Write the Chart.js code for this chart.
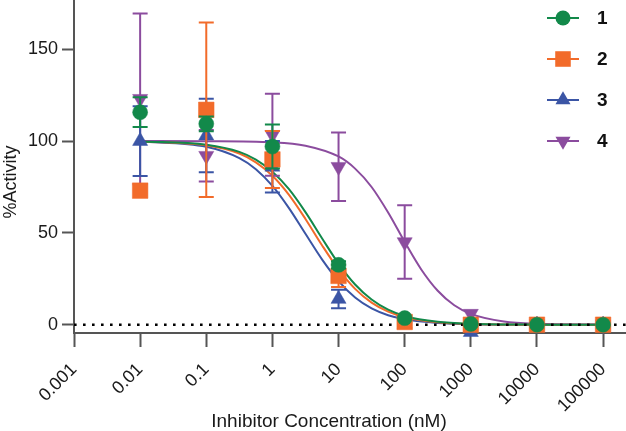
<!DOCTYPE html>
<html><head><meta charset="utf-8">
<script src="https://cdn.jsdelivr.net/npm/chart.js@4.4.1/dist/chart.umd.min.js"></script>
<style>html,body{margin:0;padding:0;background:#fff}canvas{display:block}</style>
</head><body>
<canvas id="c" width="626" height="431"></canvas>
<script>
// ---- data ----
const concentrations = [0.01, 0.1, 1, 10, 100, 1000, 10000, 100000];
const seriesNames = ['1', '2', '3', '4'];
const act1 = [115.7, 109.4, 97, 32.6, 3.6, 0.4, 0, 0];
const sd1  = [8.1, 4, 12, 2, 0, 0, 0, 0];
const act2 = [73, 117, 90, 26.6, 1.5, 0, 0, 0];
const sd2  = [0, 47.5, 15.5, 6, 0, 0, 0, 0];
const act3 = [100, 103, 86, 14, 0.5, -4, 0, 0];
const sd3  = [19, 20, 14, 5, 0, 0, 0, 0];
const act4 = [123, 92, 103.4, 86, 45, 6, 0.3, 0];
const sd4  = [46.5, 14, 22.3, 18.6, 20, 0, 0, 0];
// fitted curves
const fitConc = [0.01, 0.1, 0.316, 0.562, 1, 1.78, 3.16, 5.62, 10, 17.8, 31.6, 56.2, 100, 316, 1000, 10000, 100000];
const fit1 = [99.8, 98.0, 94.1, 89.9, 83.3, 73.8, 61.3, 47.1, 33.3, 21.9, 13.7, 8.2, 4.8, 1.6, 0.5, 0.05, 0];
const fit2 = [99.8, 97.7, 93.2, 88.4, 81.1, 70.7, 57.6, 43.3, 30.1, 19.5, 12.0, 7.1, 4.1, 1.3, 0.4, 0.04, 0];
const fit3 = [99.7, 96.9, 90.7, 84.7, 75.6, 63.5, 49.5, 35.6, 23.7, 14.8, 8.9, 5.2, 3.0, 1.0, 0.3, 0.03, 0];
const fitConc4 = [0.01, 0.1, 1, 3.16, 10, 17.8, 31.6, 56.2, 100, 178, 316, 562, 1000, 3162, 10000, 100000];
const fit4 = [100, 99.9, 99.3, 97.5, 91.6, 85.0, 75.0, 61.1, 45.1, 30.1, 18.5, 10.6, 5.9, 1.7, 0.5, 0.1];
const xTicks = [0.001, 0.01, 0.1, 1, 10, 100, 1000, 10000, 100000];
const xTickLabels = ['0.001', '0.01', '0.1', '1', '10', '100', '1000', '10000', '100000'];
const yTicks = [0, 50, 100, 150];
const referenceLevel = [0, 0];
const xTitle = 'Inhibitor Concentration (nM)';
const yTitle = '%Activity';

// ---- styling ----
const X_MIN = 0.001, X_MAX = 222000, Y_MIN = -4.5, Y_MAX = 176.8;
const colors = ['#12894a', '#f26b2a', '#3b55a5', '#8b4c9e'];
const styles = [
  {pointStyle: 'circle', radius: 7.5, rotation: 0},
  {pointStyle: 'rect', radius: 11, rotation: 0},
  {pointStyle: 'triangle', radius: 8.7, rotation: 0},
  {pointStyle: 'triangle', radius: 8.7, rotation: 180}
];
const FONT = '"Liberation Sans", Arial, Helvetica, sans-serif';
Chart.defaults.font.family = FONT;

const toXY = (xs, ys) => xs.map((x, i) => ({x: x, y: ys[i]}));
const acts = [act1, act2, act3, act4];
const sds = [sd1, sd2, sd3, sd4];
const fits = [[fitConc, fit1], [fitConc, fit2], [fitConc, fit3], [fitConc4, fit4]];

const datasets = [];
acts.forEach((a, i) => {
  datasets.push({
    label: seriesNames[i],
    data: toXY(concentrations, a),
    errors: sds[i],
    showLine: false,
    backgroundColor: colors[i],
    borderColor: colors[i],
    pointBackgroundColor: colors[i],
    pointBorderColor: colors[i],
    pointBorderWidth: 0.5,
    pointStyle: styles[i].pointStyle,
    pointRadius: styles[i].radius,
    pointRotation: styles[i].rotation,
    clip: false
  });
});
datasets.push({
  label: 'zero',
  data: [{x: X_MIN, y: referenceLevel[0]}, {x: X_MAX, y: referenceLevel[1]}],
  showLine: true,
  borderColor: '#000',
  borderWidth: 2.6,
  borderDash: [2.6, 6.4],
  pointRadius: 0
});
fits.forEach((f, i) => {
  datasets.push({
    label: 'fit' + seriesNames[i],
    data: toXY(f[0], f[1]),
    showLine: true,
    borderColor: colors[i],
    borderWidth: 2,
    pointRadius: 0,
    cubicInterpolationMode: 'monotone'
  });
});

const errorBars = {
  id: 'errorBars',
  beforeDatasetDraw(chart, args) {
    const ds = chart.data.datasets[args.index];
    if (!ds.errors) return;
    const ys = chart.scales.y, ctx = chart.ctx;
    ctx.save();
    ctx.strokeStyle = ds.borderColor;
    ctx.lineWidth = 2;
    args.meta.data.forEach((pt, i) => {
      const e = ds.errors[i];
      if (!e) return;
      const v = ds.data[i].y;
      const y1 = ys.getPixelForValue(v + e), y2 = ys.getPixelForValue(v - e);
      ctx.beginPath();
      ctx.moveTo(pt.x, y1); ctx.lineTo(pt.x, y2);
      ctx.moveTo(pt.x - 7.5, y1); ctx.lineTo(pt.x + 7.5, y1);
      ctx.moveTo(pt.x - 7.5, y2); ctx.lineTo(pt.x + 7.5, y2);
      ctx.stroke();
    });
    ctx.restore();
  }
};

const seriesLegend = {
  id: 'seriesLegend',
  afterDraw(chart) {
    const ctx = chart.ctx;
    ctx.save();
    seriesNames.forEach((name, i) => {
      const y = 18 + 41 * i;
      ctx.strokeStyle = colors[i];
      ctx.fillStyle = colors[i];
      ctx.lineWidth = 2;
      ctx.beginPath(); ctx.moveTo(547, y); ctx.lineTo(579, y); ctx.stroke();
      Chart.helpers.drawPoint(ctx, {pointStyle: styles[i].pointStyle, radius: styles[i].radius, rotation: styles[i].rotation, borderWidth: 0}, 563, y);
      ctx.fillStyle = '#111';
      ctx.font = 'bold 19px ' + FONT;
      ctx.textAlign = 'left';
      ctx.textBaseline = 'middle';
      ctx.fillText(name, 597, y + 1);
    });
    ctx.restore();
  }
};

// axis titles, placed where the reference places them
const axisTitles = {
  id: 'axisTitles',
  afterDraw(chart) {
    const ctx = chart.ctx;
    ctx.save();
    ctx.fillStyle = '#1a1a1a';
    ctx.font = '19px ' + FONT;
    ctx.textAlign = 'center';
    ctx.textBaseline = 'alphabetic';
    ctx.fillText(xTitle, 329, 427);
    ctx.translate(11, 182);
    ctx.rotate(-Math.PI / 2);
    ctx.font = '18px ' + FONT;
    ctx.textBaseline = 'middle';
    ctx.fillText(yTitle, 0, 0);
    ctx.restore();
  }
};

new Chart(document.getElementById('c'), {
  type: 'scatter',
  data: {datasets: datasets},
  plugins: [errorBars, seriesLegend, axisTitles],
  options: {
    responsive: false,
    animation: false,
    devicePixelRatio: 1,
    layout: {padding: 0, autoPadding: false},
    plugins: {legend: {display: false}, tooltip: {enabled: false}},
    scales: {
      x: {
        type: 'logarithmic',
        position: 'bottom',
        min: X_MIN, max: X_MAX,
        afterBuildTicks: s => { s.ticks = xTicks.map(v => ({value: v})); },
        afterFit: s => { s.height = 98; s.paddingLeft = 0; s.paddingRight = 0; },
        ticks: {
          autoSkip: false, maxRotation: 45, minRotation: 45,
          callback: (v, i) => xTickLabels[i],
          font: {size: 18}, color: '#1a1a1a', padding: 12, labelOffset: 0
        },
        grid: {drawOnChartArea: false, drawTicks: true, tickLength: 14, tickWidth: 2, tickColor: '#555'},
        border: {display: true, color: '#555', width: 2},
        title: {display: false, text: xTitle}
      },
      y: {
        type: 'linear',
        min: Y_MIN, max: Y_MAX,
        afterBuildTicks: s => { s.ticks = yTicks.map(v => ({value: v})); },
        afterFit: s => { s.width = 74; s.paddingTop = 0; s.paddingBottom = 0; },
        ticks: {font: {size: 18}, color: '#1a1a1a', padding: 4},
        grid: {drawOnChartArea: false, drawTicks: true, tickLength: 12, tickWidth: 2, tickColor: '#555'},
        border: {display: true, color: '#555', width: 2},
        title: {display: false, text: yTitle}
      }
    }
  }
});
</script>
</body></html>
